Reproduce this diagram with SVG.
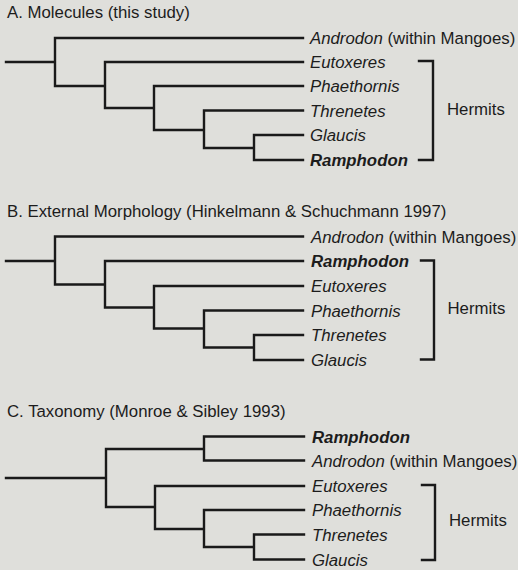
<svg xmlns="http://www.w3.org/2000/svg" width="518" height="570" viewBox="0 0 518 570">
<style>
text{font-family:"Liberation Sans",Arial,Helvetica,sans-serif;font-size:16.8px;fill:#1c1c1c}
.i{font-style:italic}
.b{font-style:italic;font-weight:bold}
.ln{fill:none;stroke:#1a1a1a;stroke-width:2.4;stroke-linecap:square;stroke-linejoin:miter}
</style>
<rect width="518" height="570" fill="#dfdfdb"/>
<g id="titles">
<text x="7" y="18">A. Molecules (this study)</text>
<text x="7" y="217">B. External Morphology (Hinkelmann &amp; Schuchmann 1997)</text>
<text x="7" y="417">C. Taxonomy (Monroe &amp; Sibley 1993)</text>
</g>
<g id="connectors" class="ln">
<path class="ln" d="M6,62 H55 M303,38 H55 V86 H105 M303,62 H105 V108 H154 M303,86 H154 V130 H204 M303,110.5 H204 V148 H254 M303,135 H254 V160 H303"/>
<path class="ln" d="M6,261 H55 M303,236.5 H55 V284.5 H105 M303,261 H105 V307.5 H154 M303,286 H154 V328.5 H204 M303,310.5 H204 V347.5 H254 M303,335 H254 V360 H303"/>
<path class="ln" d="M6,478 H106 M204,449 H106 V507 H155 M304,436.5 H204 V460.5 H304 M304,486 H155 V529 H204 M304,510 H204 V547 H254 M304,534.5 H254 V559.5 H304"/>
<path class="ln" d="M419,61 H433 V160 H419"/>
<path class="ln" d="M421,260.5 H434 V359.5 H421"/>
<path class="ln" d="M422,485 H435 V560 H422"/>
</g>
<g id="A-androdon"><text x="310" y="44"><tspan class="i">Androdon</tspan> (within Mangoes)</text></g>
<g id="A-eutoxeres"><text class="i" x="310" y="68">Eutoxeres</text></g>
<g id="A-phaethornis"><text class="i" x="310" y="92">Phaethornis</text></g>
<g id="A-threnetes"><text class="i" x="310" y="116.5">Threnetes</text></g>
<g id="A-glaucis"><text class="i" x="310" y="141">Glaucis</text></g>
<g id="A-ramphodon"><text class="b" x="310" y="166">Ramphodon</text></g>
<g id="A-hermits"><text x="447" y="115">Hermits</text></g>

<g id="B-androdon"><text x="311" y="242.5"><tspan class="i">Androdon</tspan> (within Mangoes)</text></g>
<g id="B-ramphodon"><text class="b" x="311" y="267">Ramphodon</text></g>
<g id="B-eutoxeres"><text class="i" x="311" y="292">Eutoxeres</text></g>
<g id="B-phaethornis"><text class="i" x="311" y="316.5">Phaethornis</text></g>
<g id="B-threnetes"><text class="i" x="311" y="341">Threnetes</text></g>
<g id="B-glaucis"><text class="i" x="311" y="366">Glaucis</text></g>
<g id="B-hermits"><text x="447.5" y="314">Hermits</text></g>

<g id="C-ramphodon"><text class="b" x="312" y="442.5">Ramphodon</text></g>
<g id="C-androdon"><text x="312" y="466.5"><tspan class="i">Androdon</tspan> (within Mangoes)</text></g>
<g id="C-eutoxeres"><text class="i" x="312" y="492">Eutoxeres</text></g>
<g id="C-phaethornis"><text class="i" x="312" y="516">Phaethornis</text></g>
<g id="C-threnetes"><text class="i" x="312" y="540.5">Threnetes</text></g>
<g id="C-glaucis"><text class="i" x="312" y="565.5">Glaucis</text></g>
<g id="C-hermits"><text x="449" y="526">Hermits</text></g>
</svg>
